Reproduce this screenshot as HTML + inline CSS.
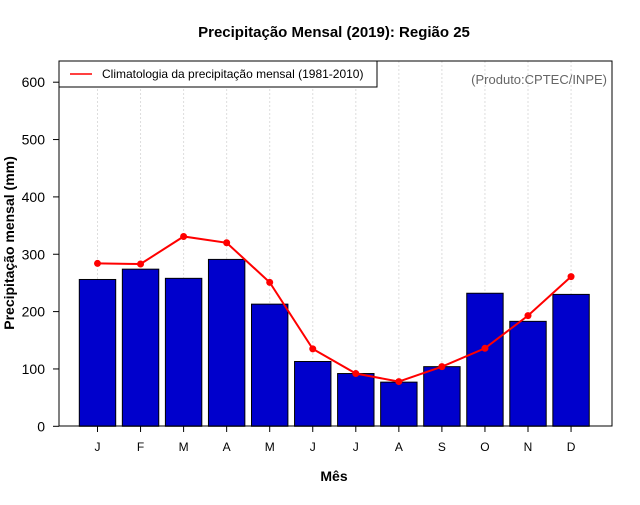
<!DOCTYPE html>
<html><head><meta charset="utf-8"><style>
body{margin:0;background:#fff}
svg text{font-family:"Liberation Sans",sans-serif}
</style></head><body>
<svg id="c" width="640" height="500" xmlns="http://www.w3.org/2000/svg">
<rect width="640" height="500" fill="#fff"/>
<text x="334" y="37" text-anchor="middle" font-size="15" font-weight="bold">Precipitação Mensal (2019): Região 25</text>
<g id="grid"></g>
<g id="bars"></g>
<g id="line"></g>
<rect x="59" y="61" width="553" height="365" fill="none" stroke="#000" stroke-width="1"/>
<g id="yaxis"></g>
<g id="xaxis"></g>
<text x="334" y="481" text-anchor="middle" font-size="14" font-weight="bold">Mês</text>
<text transform="translate(14,243) rotate(-90)" text-anchor="middle" font-size="14" font-weight="bold">Precipitação mensal (mm)</text>
<g>
<rect x="59" y="61" width="318" height="26" fill="#fff" stroke="#000"/>
<line x1="70" y1="74" x2="92" y2="74" stroke="red" stroke-width="1.5"/>
<text x="102" y="78" font-size="12">Climatologia da precipitação mensal (1981-2010)</text>
</g>
<text x="607" y="84" text-anchor="end" font-size="13" fill="#666">(Produto:CPTEC/INPE)</text>
</svg>
<script>
const months=["J","F","M","A","M","J","J","A","S","O","N","D"];
const observed=[256,274,258,291,213,113,92,77,104,232,183,230];
const climatology=[284,283,331,320,251,135,92,78,104,136,193,261];
const yTicks=[0,100,200,300,400,500,600];
const NS="http://www.w3.org/2000/svg";
const x=i=>97.5+i*43.05;
const y=v=>426.3-v*0.5735;
function mk(t,a,p){const e=document.createElementNS(NS,t);for(const k in a)e.setAttribute(k,a[k]);p.appendChild(e);return e;}
const g=document.getElementById('grid'),b=document.getElementById('bars'),l=document.getElementById('line'),ya=document.getElementById('yaxis'),xa=document.getElementById('xaxis');
months.forEach((m,i)=>{
 const gl=mk('line',{x1:x(i),x2:x(i),y1:61,y2:426,stroke:'#ddd','stroke-dasharray':'2,2'},g);
 
 
 const r=mk('rect',{x:x(i)-18.2,y:y(observed[i]),width:36.4,height:y(0)-y(observed[i]),fill:'#0000cc',stroke:'#000','stroke-width':1},b);
 
 
 const t=mk('line',{x1:x(i),x2:x(i),y1:426,y2:432,stroke:'#000'},xa);
 
 
 const tx=mk('text',{x:x(i),y:451,'text-anchor':'middle','font-size':12},xa);
 tx.textContent=m;
 
 
});
const pl=mk('polyline',{points:climatology.map((v,i)=>x(i)+','+y(v)).join(' '),fill:'none',stroke:'red','stroke-width':2},l);


climatology.forEach((v,i)=>{
 const c=mk('circle',{cx:x(i),cy:y(v),r:3.5,fill:'red'},l);
 
 
});
yTicks.forEach(v=>{
 const t=mk('line',{x1:53,x2:59,y1:y(v),y2:y(v),stroke:'#000'},ya);
 
 
 const tx=mk('text',{x:45,y:y(v)+5,'text-anchor':'end','font-size':14},ya);
 tx.textContent=v;
 
 
});
</script>
</body></html>
